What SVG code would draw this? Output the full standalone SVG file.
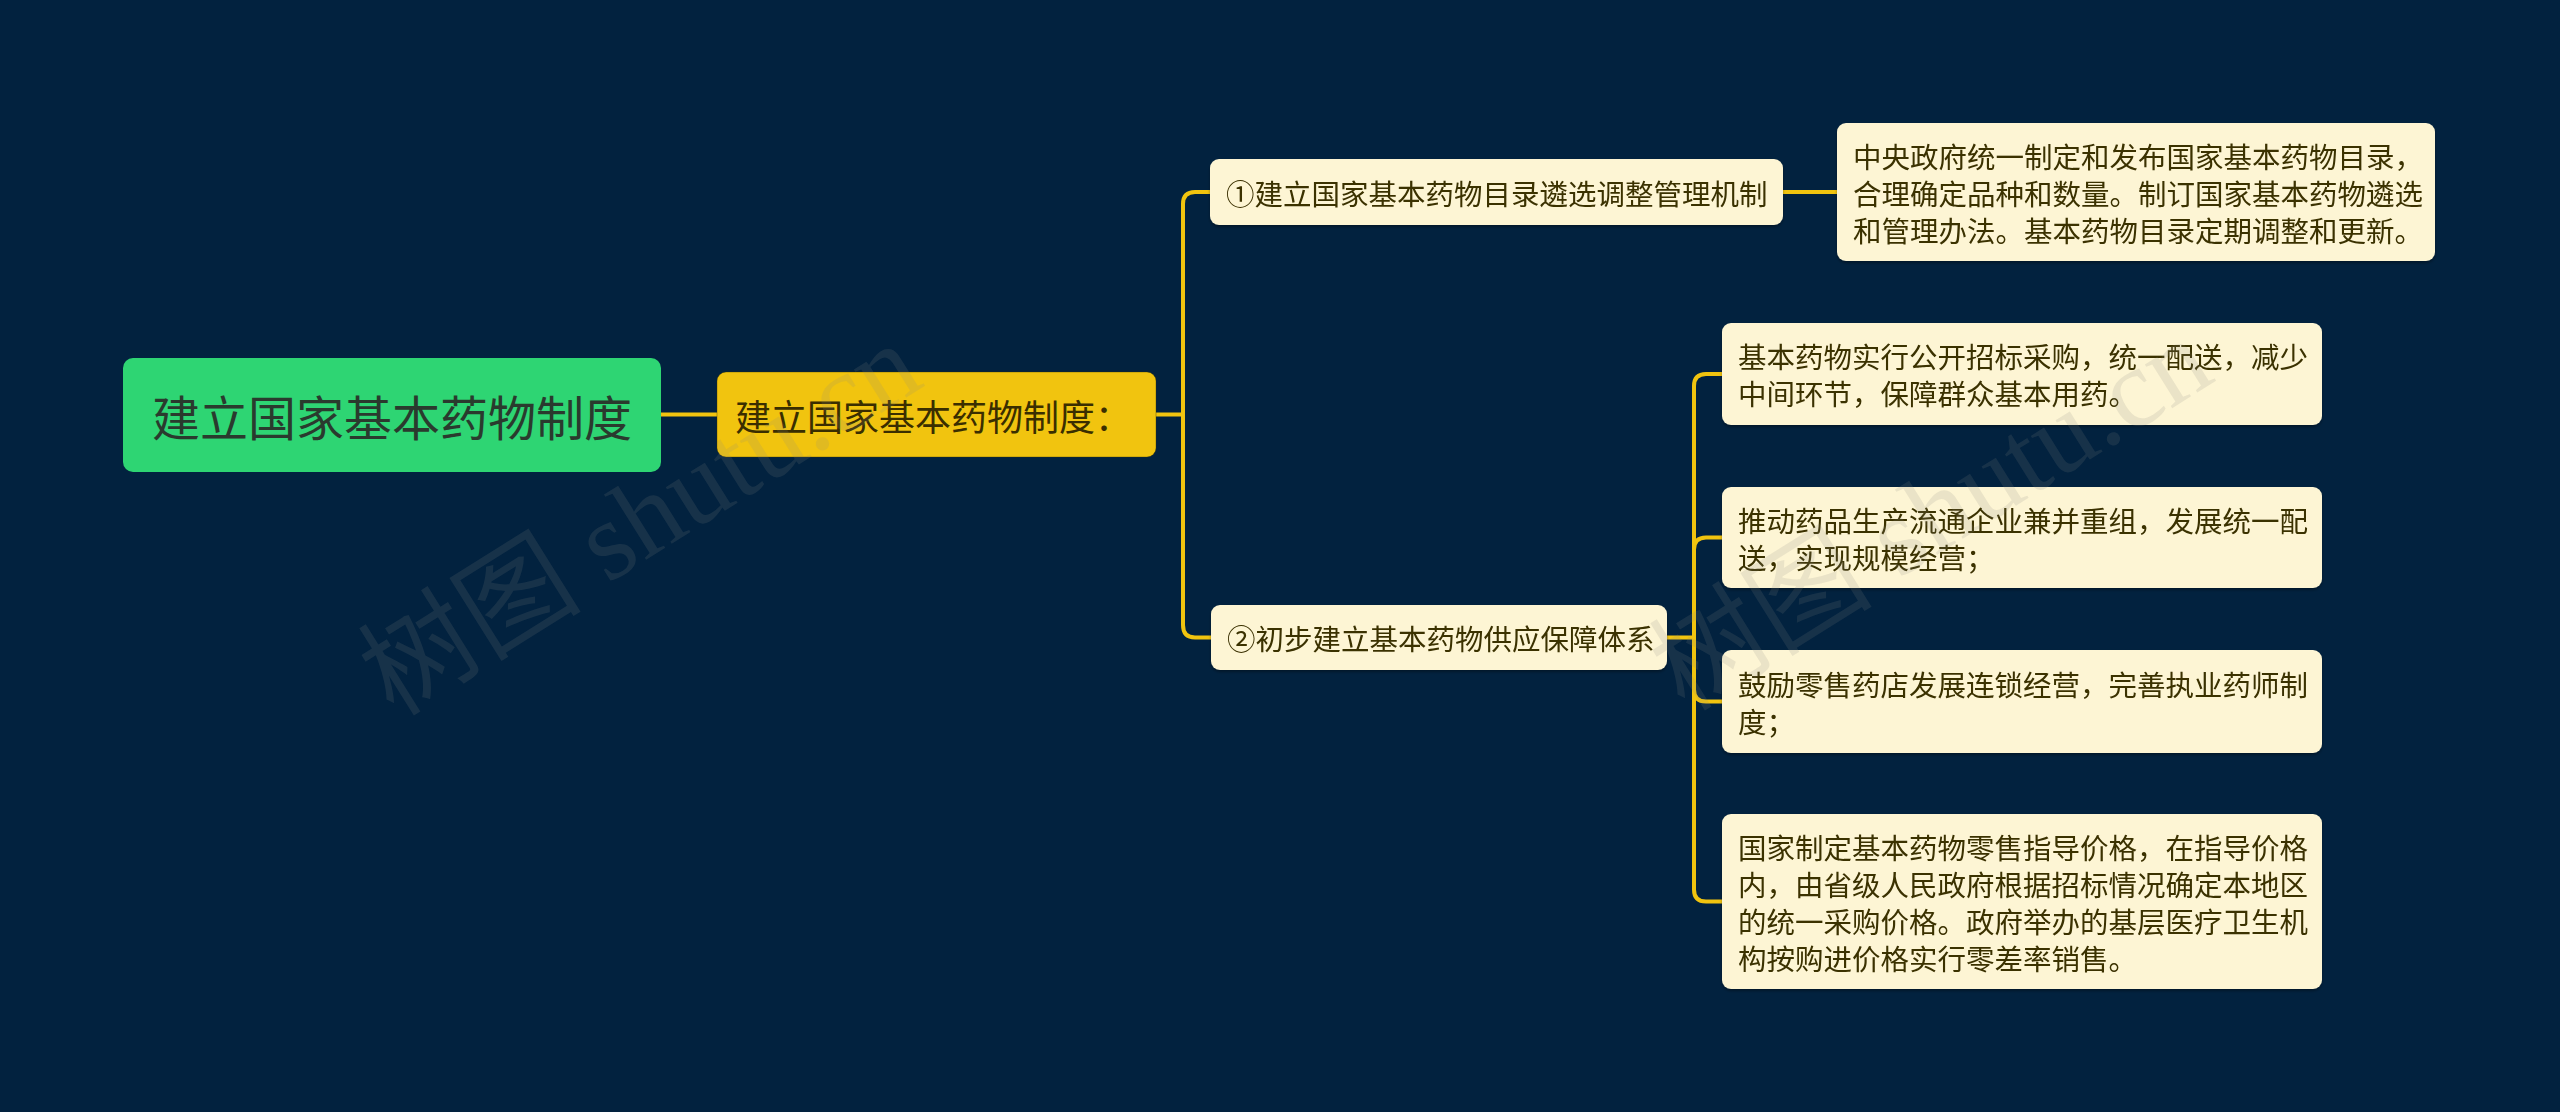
<svg xmlns="http://www.w3.org/2000/svg" width="2560" height="1112" viewBox="0 0 2560 1112">
<style>
.t{font-family:"Noto Sans CJK SC","Noto Sans",sans-serif;dominant-baseline:central}
.leaf{fill:#fdf5d4}
.lt{font-size:28.5px;fill:#3a3000}
.ln{fill:none;stroke:#f1c40f;stroke-width:4;stroke-linecap:round}
.wm{font-family:"Liberation Serif","Noto Sans CJK SC",serif;font-size:112px;fill:#8a8a80;fill-opacity:0.16}
</style>
<defs>
<filter id="sh" x="-5%" y="-5%" width="110%" height="120%">
<feDropShadow dx="0" dy="2" stdDeviation="1.5" flood-color="#000" flood-opacity="0.35"/>
</filter>
</defs>
<rect width="2560" height="1112" fill="#02223f"/>
<g id="connectors">
<path class="ln" d="M661 414.5 H717"/>
<path class="ln" d="M1156 414.5 H1183"/>
<path class="ln" d="M1183 414.5 V204 Q1183 192 1195 192 H1211"/>
<path class="ln" d="M1183 414.5 V625 Q1183 637.5 1195 637.5 H1211"/>
<path class="ln" d="M1783 192 H1837"/>
<path class="ln" d="M1667 637.5 H1694"/>
<path class="ln" d="M1694 637.5 V386 Q1694 374 1706 374 H1722"/>
<path class="ln" d="M1694 637.5 V549.5 Q1694 537.5 1706 537.5 H1722"/>
<path class="ln" d="M1694 637.5 V689.5 Q1694 701.5 1706 701.5 H1722"/>
<path class="ln" d="M1694 637.5 V889.5 Q1694 901.5 1706 901.5 H1722"/>
</g>
<g id="root">
<rect x="123" y="358" width="538" height="114" rx="10" fill="#2ed573"/>
<text class="t" x="392" y="415" text-anchor="middle" font-size="48" fill="#2a3a2e">建立国家基本药物制度</text>
</g>
<g id="n1">
<rect x="717" y="372" width="439" height="85" rx="9" fill="#f1c40f" stroke="#3a3000" stroke-opacity="0.35" stroke-width="1"/>
<text class="t" x="735" y="414.5" font-size="36" fill="#3a2e00">建立国家基本药物制度：</text>
</g>
<g id="c1" filter="url(#sh)">
<rect class="leaf" x="1210" y="159" width="573" height="66" rx="9"/>
<text class="t lt" x="1226" y="192">①建立国家基本药物目录遴选调整管理机制</text>
</g>
<g id="c1a" filter="url(#sh)">
<rect class="leaf" x="1837" y="123" width="598" height="138" rx="9"/>
<text class="t lt" x="1853" y="155">中央政府统一制定和发布国家基本药物目录，</text>
<text class="t lt" x="1853" y="192">合理确定品种和数量。制订国家基本药物遴选</text>
<text class="t lt" x="1853" y="229">和管理办法。基本药物目录定期调整和更新。</text>
</g>
<g id="c2" filter="url(#sh)">
<rect class="leaf" x="1211" y="605" width="456" height="65" rx="9"/>
<text class="t lt" x="1227" y="637.5">②初步建立基本药物供应保障体系</text>
</g>
<g id="c2a" filter="url(#sh)">
<rect class="leaf" x="1722" y="323" width="600" height="102" rx="9"/>
<text class="t lt" x="1738" y="355.5">基本药物实行公开招标采购，统一配送，减少</text>
<text class="t lt" x="1738" y="392.5">中间环节，保障群众基本用药。</text>
</g>
<g id="c2b" filter="url(#sh)">
<rect class="leaf" x="1722" y="487" width="600" height="101" rx="9"/>
<text class="t lt" x="1738" y="519">推动药品生产流通企业兼并重组，发展统一配</text>
<text class="t lt" x="1738" y="556">送，实现规模经营；</text>
</g>
<g id="c2c" filter="url(#sh)">
<rect class="leaf" x="1722" y="650" width="600" height="103" rx="9"/>
<text class="t lt" x="1738" y="683">鼓励零售药店发展连锁经营，完善执业药师制</text>
<text class="t lt" x="1738" y="720">度；</text>
</g>
<g id="c2d" filter="url(#sh)">
<rect class="leaf" x="1722" y="814" width="600" height="175" rx="9"/>
<text class="t lt" x="1738" y="846">国家制定基本药物零售指导价格，在指导价格</text>
<text class="t lt" x="1738" y="883">内，由省级人民政府根据招标情况确定本地区</text>
<text class="t lt" x="1738" y="920">的统一采购价格。政府举办的基层医疗卫生机</text>
<text class="t lt" x="1738" y="957">构按购进价格实行零差率销售。</text>
</g>
<g id="watermark">
<text class="wm" x="640" y="519" text-anchor="middle" dominant-baseline="central" transform="rotate(-32 640 519)">树图 shutu.cn</text>
<text class="wm" x="1931" y="514" text-anchor="middle" dominant-baseline="central" transform="rotate(-32 1931 514)">树图 shutu.cn</text>
</g>
</svg>
